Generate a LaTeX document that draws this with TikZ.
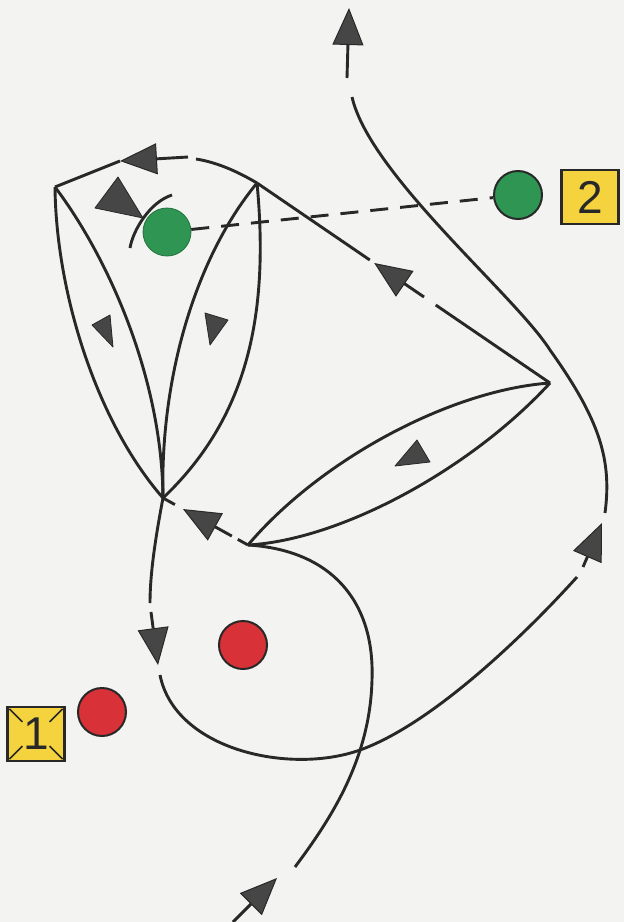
\documentclass[tikz,border=0pt]{standalone}
\usepackage{fontspec}
\setmainfont{Liberation Sans}
\usetikzlibrary{arrows.meta,calc}
\definecolor{ink}{RGB}{40,40,40}
\definecolor{headfill}{RGB}{70,70,70}
\definecolor{paper}{RGB}{243,243,241}
\definecolor{dotgreen}{RGB}{46,150,82}
\definecolor{dotred}{RGB}{216,50,56}
\definecolor{labelyellow}{RGB}{244,211,62}
\begin{document}
\begin{tikzpicture}[x=1pt,y=-1pt,
  curve/.style={draw=ink,line width=2.9pt},
  arr/.style={curve,-{Triangle[length=37pt,width=31pt,fill=headfill,line width=1pt]}},
  marker/.style={fill=headfill,draw=ink,line width=0.8pt,line join=round},
  dot/.style={circle,minimum size=48pt,inner sep=0pt,line width=2pt},
  labelbox/.style={draw=ink,line width=2.2pt,fill=labelyellow,minimum width=57pt,minimum height=54pt,inner sep=0pt,font=\fontsize{46}{46}\selectfont,text=ink}
]
\useasboundingbox[fill=paper] (0,0) rectangle (624,922);

% key points
\coordinate (A) at (55,187);
\coordinate (B) at (257,183);
\coordinate (C) at (163,498);
\coordinate (D) at (550,383);
\coordinate (E) at (248,545);

% dots and labels
\node[dot,fill=dotgreen,draw=dotgreen!75!black,line width=0.8pt] (g1) at (167,232) {};
\node[dot,fill=dotgreen,draw=ink] (g2) at (518,195) {};
\node[dot,fill=dotred,draw=ink] (r1) at (243,645) {};
\node[dot,fill=dotred,draw=ink] (r2) at (102,712) {};
\node[labelbox] (lbl2) at (590,197) {2};
\node[labelbox] (lbl1) at (36,734) {1};
\draw[ink,line width=1.6pt] (lbl1.north west) ++(3,3) -- ++(13,13);
\draw[ink,line width=1.6pt] (lbl1.north east) ++(-3,3) -- ++(-13,13);
\draw[ink,line width=1.6pt] (lbl1.south west) ++(3,-3) -- ++(13,-13);
\draw[ink,line width=1.6pt] (lbl1.south east) ++(-3,-3) -- ++(-13,-13);

% dashed link between green dots
\draw[curve,dash pattern=on 18pt off 12pt] (g1) -- (g2);

% top arc B -> A with arrow
\draw[curve] (B) .. controls (235,170) and (215,162) .. (196,159);
\draw[arr] (188,157) -- (120,161);
\draw[curve] (120,161) -- (A);

% the two lenses from A and B down to C
\draw[curve] (A) .. controls (56,290) and (95,420) .. (C);
\draw[curve] (A) .. controls (110,260) and (162,380) .. (C);
\draw[curve] (B) .. controls (192,262) and (160,385) .. (C);
\draw[curve] (B) .. controls (270,320) and (245,420) .. (C);
\fill[marker] (92,325) -- (110,315) -- (113,347) -- cycle;
\fill[marker] (205,313) -- (228,320) -- (210,345) -- cycle;

% B -- D with arrow towards B
\draw[curve] (B) -- ($(B)!0.385!(D)$);
\draw[arr] ($(B)!0.57!(D)$) -- ($(B)!0.40!(D)$);
\draw[curve] ($(B)!0.61!(D)$) -- (D);

% lens E -- D
\draw[curve] (E) .. controls (320,460) and (450,390) .. (D);
\draw[curve] (E) .. controls (340,540) and (470,470) .. (D);
\fill[marker] (395,466) -- (417,440) -- (430,462) -- cycle;

% E -> C dashed arrow
\draw[curve] (E) -- ($(E)!0.12!(C)$);
\draw[arr] ($(E)!0.19!(C)$) -- ($(E)!0.765!(C)$);
\draw[curve] ($(E)!0.86!(C)$) -- (C);

% small arc at the left green dot
\draw[curve] (130,248) .. controls (133,230) and (150,202) .. (172,195);
\fill[marker] (95,208) -- (118,177) -- (143,218) -- cycle;

% loop from C around and up the right side
\draw[curve] (C) .. controls (155,540) and (150,575) .. (150,603);
\draw[arr] (151,612) -- (158,665);
\draw[curve] (160,675) .. controls (175,750) and (290,775) .. (360,750)
  .. controls (430,725) and (520,640) .. (577,577);
\draw[arr] (583,567) -- (602,523);
\draw[curve] (605,513) .. controls (612,460) and (600,420) .. (550,350)
  .. controls (515,295) and (370,175) .. (352,97);
\draw[arr] (347,78) -- (349,8);

% entry from the bottom to E
\draw[arr] (233,922) -- (277,878);
\draw[curve] (295,867) .. controls (330,820) and (370,760) .. (372,680)
  .. controls (375,600) and (330,550) .. (E);
\end{tikzpicture}
\end{document}
